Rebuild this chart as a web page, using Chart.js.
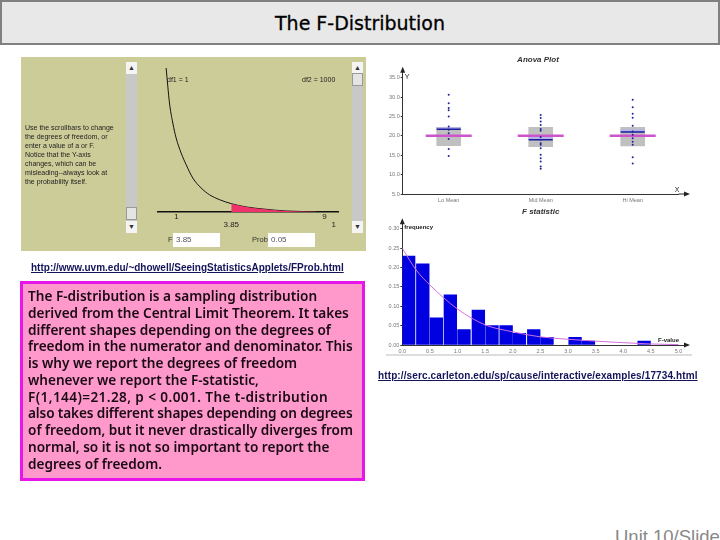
<!DOCTYPE html>
<html>
<head>
<meta charset="utf-8">
<title>The F-Distribution</title>
<script src="https://cdn.jsdelivr.net/npm/chart.js@4"></script>
<style>
html, body { margin: 0; padding: 0; background: #fff; }
body { width: 720px; height: 540px; overflow: hidden; position: relative; font-family: "Liberation Sans", sans-serif; }
.abs { position: absolute; }
canvas { position: absolute; }
#titleBar { left: 0; top: 0; width: 716px; height: 41px; background: #e8e8e8; border: 2px solid #808080; text-align: center; font: 19px/43px "DejaVu Sans", sans-serif; color: #000; -webkit-text-stroke: 0.3px #000; }
#panel { left: 21px; top: 57px; width: 345px; height: 194px; background: #cccc99; }
.track { width: 11px; top: 62px; height: 171px; background: #c8c8c8; }
.btn { width: 11px; height: 12px; background: #f4f4f4; left: 0; text-align: center; font: 7px/12px "Liberation Sans"; color: #333; }
.thumb { width: 9px; height: 11px; left: 0; background: #e4e4e4; border: 1px solid #999; }
#help { left: 25px; top: 122.5px; font: 7px/9px "Liberation Sans", sans-serif; color: #222; white-space: nowrap; }
.df { font: 7px/8px "Liberation Sans"; top: 76px; color: #222; white-space: nowrap; }
.field { background: #fff; height: 14px; top: 233px; width: 47px; font: 8px/14px "Liberation Sans"; color: #555; padding-left: 3px; box-sizing: border-box; }
.lbl { font: 7.5px/14px "Liberation Sans"; top: 233px; color: #333; }
.link { font: bold 10px/12px "Liberation Sans", sans-serif; color: #14145a; text-decoration: underline; white-space: nowrap; }
#note { left: 20px; top: 281px; width: 339px; height: 194px; background: #ff99cc; border: 3px solid #e815e8; font: 600 13.6px/16.75px "Noto Sans", sans-serif; color: #1a0a14; white-space: nowrap; }
#note div { position: absolute; left: 5px; top: 4px; }
#anovaTitle { left: 375px; width: 326px; top: 55px; text-align: center; font: italic bold 8px/10px "Liberation Sans"; color: #333; }
#footer { left: 615px; top: 525px; font: 18.5px/24px "Liberation Sans", sans-serif; color: #888; white-space: nowrap; }
#histStrip { left: 386px; top: 354px; width: 306px; height: 2px; background: #dddddd; }
</style>
</head>
<body>
<div id="titleBar" class="abs">The F-Distribution</div>

<div id="panel" class="abs"></div>
<canvas id="fChart" style="left:21px;top:57px"></canvas>
<div class="abs df" style="left:167px">df1 = 1</div>
<div class="abs df" style="left:302px">df2 = 1000</div>
<div id="help" class="abs">Use the scrollbars to change<br>the degrees of freedom, or<br>enter a value of a or F.<br>Notice that the Y-axis<br>changes, which can be<br>misleading--always look at<br>the probability itself.</div>
<div class="abs track" style="left:126px">
  <div class="abs btn" style="top:0">&#9650;</div>
  <div class="abs thumb" style="top:145px"></div>
  <div class="abs btn" style="bottom:0">&#9660;</div>
</div>
<div class="abs track" style="left:352px">
  <div class="abs btn" style="top:0">&#9650;</div>
  <div class="abs thumb" style="top:11px"></div>
  <div class="abs btn" style="bottom:0">&#9660;</div>
</div>
<div class="abs lbl" style="left:168px">F</div>
<div class="abs field" style="left:173px">3.85</div>
<div class="abs lbl" style="left:252px">Prob:</div>
<div class="abs field" style="left:268px">0.05</div>

<div class="abs link" style="left:31px;top:262px">http://www.uvm.edu/~dhowell/SeeingStatisticsApplets/FProb.html</div>

<div id="note" class="abs"><div>The F-distribution is a sampling distribution<br>derived from the Central Limit Theorem. It takes<br>different shapes depending on the degrees of<br>freedom in the numerator and denominator. This<br>is why we report the degrees of freedom<br>whenever we report the F-statistic,<br><span style="letter-spacing:0.4px">F(1,144)=21.28, p &lt; 0.001. The t-distribution</span><br><span style="letter-spacing:-0.12px">also takes different shapes depending on degrees</span><br>of freedom, but it never drastically diverges from<br>normal, so it is not so important to report the<br>degrees of freedom.</div></div>

<canvas id="anovaChart" style="left:375px;top:50px"></canvas>
<div id="anovaTitle" class="abs">Anova Plot</div>
<canvas id="histChart" style="left:375px;top:216px"></canvas>
<div id="histStrip" class="abs"></div>
<div class="abs link" style="left:378px;top:370px;letter-spacing:0.12px">http://serc.carleton.edu/sp/cause/interactive/examples/17734.html</div>
<div id="footer" class="abs">Unit 10/Slide</div>

<script>
// F density curve
const fX = [0.44, 0.53, 0.62, 0.80, 0.98, 1.25, 1.52, 1.88, 2.33, 2.78, 3.32, 3.96, 4.77, 5.67, 6.93, 8.55];
const fY = [1.0, 0.873, 0.757, 0.618, 0.514, 0.41, 0.329, 0.236, 0.167, 0.12, 0.086, 0.058, 0.035, 0.021, 0.007, 0.002];
const fCritical = 3.96;
const fTickValues = [1, fCritical, 9, 9.5];
const fTickLabels = [["1"], ["", "3.85"], ["9"], ["", "1"]];

// Anova plot
const groupLabels = ["Lo Mean", "Mid Mean", "Hi Mean"];
const boxLow = [17.5, 17.2, 17.4];
const boxHigh = [22.2, 22.2, 22.2];
const groupMeans = [21.7, 19.0, 21.0];
const bandTop = [22.2, 19.7, 21.6];
const grandMeans = [20, 20, 20];
const group1 = [30.6, 28.4, 27.2, 26.6, 25, 22.4, 21.6, 20.7, 19.2, 16.6, 14.8];
const group2 = [25.4, 24.6, 23.7, 22.8, 21.8, 21.3, 19.7, 19, 18.1, 17.7, 16.8, 15.1, 14.2, 13.4, 12.1, 11.5];
const group3 = [29.3, 27.4, 25.7, 24.7, 22.6, 21.1, 20.3, 19.4, 18.5, 17.7, 14.5, 12.9];

// Histogram of F statistics
const binCenters = [0.115, 0.371, 0.616, 0.87, 1.117, 1.377, 1.624, 1.88, 2.12, 2.38, 2.62, 3.128, 3.37, 4.378];
const binFreq = [0.23, 0.21, 0.07, 0.13, 0.04, 0.09, 0.05, 0.05, 0.03, 0.04, 0.02, 0.02, 0.01, 0.01];
const curveX = [0, 0.25, 0.5, 1, 1.5, 2, 2.5, 3, 3.5, 4, 4.5, 5];
const curveY = [0.25, 0.194, 0.155, 0.093, 0.052, 0.034, 0.021, 0.0147, 0.01, 0.006, 0.0026, 0.001];

Chart.defaults.animation = false;
Chart.defaults.responsive = false;
Chart.defaults.font.family = "Liberation Sans";

function makeCanvas(id, w, h) {
  const c = document.getElementById(id);
  c.width = w;
  c.height = h;
  return c;
}

function pairs(xs, ys) {
  return xs.map(function(x, i) { return { x: x, y: ys[i] }; });
}

function head(ctx, x, y, dx, dy) {
  ctx.beginPath();
  ctx.moveTo(x + dx * 6, y + dy * 6);
  ctx.lineTo(x - dy * 2.5, y + dx * 2.5);
  ctx.lineTo(x + dy * 2.5, y - dx * 2.5);
  ctx.closePath();
  ctx.fill();
}

// arrow heads and the end labels of the two small plots
const axisEnds = {
  id: 'axisEnds',
  afterDraw(chart, args, o) {
    if (!o.on) return;
    const ctx = chart.ctx, a = chart.chartArea;
    ctx.save();
    ctx.strokeStyle = ctx.fillStyle = '#222';
    ctx.lineWidth = 1;
    ctx.beginPath();
    ctx.moveTo(a.right, a.bottom);
    ctx.lineTo(a.right + o.extra, a.bottom);
    ctx.stroke();
    head(ctx, a.right + o.extra, a.bottom, 1, 0);
    head(ctx, a.left, a.top, 0, -1);
    ctx.font = o.font;
    ctx.fillText(o.y, a.left + o.yLabel[0], a.top + o.yLabel[1]);
    ctx.fillText(o.x, a.right + o.xLabel[0], a.bottom + o.xLabel[1]);
    ctx.restore();
  }
};
Chart.register(axisEnds);

const axisGrey = '#333';
const tinyTicks = { font: { size: 5.5 }, color: '#777', maxRotation: 0, autoSkip: false };

new Chart(makeCanvas('fChart', 345, 194), {
  type: 'line',
  data: {
    datasets: [
      {
        data: pairs(fX, fY).filter(function(p) { return p.x >= fCritical; }),
        borderColor: '#f0336a', backgroundColor: '#f0336a', borderWidth: 0, fill: 'origin',
        pointRadius: 0, cubicInterpolationMode: 'monotone'
      },
      {
        data: pairs(fX, fY),
        borderColor: '#111', borderWidth: 1, pointRadius: 0, cubicInterpolationMode: 'monotone'
      }
    ]
  },
  options: {
    layout: { padding: { left: 137, right: 28, top: 11 } },
    plugins: { legend: { display: false }, tooltip: { enabled: false } },
    scales: {
      x: {
        type: 'linear', min: 0, max: 9.73,
        afterBuildTicks: function(s) { s.ticks = fTickValues.map(function(v) { return { value: v }; }); },
        afterFit: function(s) { s.height = 39; },
        grid: { display: false, drawTicks: false },
        border: { color: '#111', width: 1.5 },
        ticks: {
          autoSkip: false, maxRotation: 0, padding: 1, color: '#222', font: { size: 8, lineHeight: 1 },
          callback: function(v, i) { return fTickLabels[i]; }
        }
      },
      y: { display: false, min: 0, max: 1 }
    }
  }
});

function dotSet(values, label) {
  return {
    type: 'line', showLine: false, order: 0,
    data: values.map(function(v) { return { x: label, y: v }; }),
    pointRadius: 1, pointBackgroundColor: '#22229a', pointBorderWidth: 0
  };
}

new Chart(makeCanvas('anovaChart', 330, 168), {
  type: 'bar',
  data: {
    labels: groupLabels,
    datasets: [
      {
        data: groupMeans.map(function(v, i) { return [v, bandTop[i]]; }),
        backgroundColor: '#b4b4e6', barThickness: 24, order: 4
      },
      {
        data: boxLow.map(function(v, i) { return [v, boxHigh[i]]; }),
        backgroundColor: '#c0c0c0', barThickness: 24, order: 5
      },
      {
        type: 'line', showLine: false, order: 2, data: groupMeans,
        pointStyle: 'line', pointRadius: 12, pointBorderColor: '#1a1aa0', pointBorderWidth: 1.5
      },
      {
        type: 'line', showLine: false, order: 1, data: grandMeans,
        pointStyle: 'line', pointRadius: 23, pointBorderColor: '#cc55cc', pointBorderWidth: 2.5
      },
      dotSet(group1, groupLabels[0]),
      dotSet(group2, groupLabels[1]),
      dotSet(group3, groupLabels[2])
    ]
  },
  options: {
    datasets: { bar: { grouped: false } },
    layout: { autoPadding: false, padding: { right: 26.3, top: 22.7 } },
    plugins: {
      legend: { display: false }, tooltip: { enabled: false },
      axisEnds: { on: true, extra: 5.3, x: 'X', y: 'Y', xLabel: [-4, -2], yLabel: [2, 6], font: '7px "Liberation Sans"' }
    },
    scales: {
      x: {
        type: 'category', offset: true,
        afterFit: function(s) { s.height = 24; },
        grid: { display: false, tickLength: 2, tickColor: axisGrey },
        border: { color: axisGrey },
        ticks: Object.assign({}, tinyTicks, { padding: 1 }),
        title: {
          display: true, text: 'F statistic', color: '#333',
          font: { size: 8, style: 'italic', weight: 'bold', lineHeight: 1.2 },
          padding: { top: 0, bottom: 1 }
        }
      },
      y: {
        min: 5, max: 36.3,
        afterFit: function(s) { s.width = 27.7; },
        grid: { drawOnChartArea: false, tickLength: 2, tickColor: axisGrey },
        border: { color: axisGrey },
        ticks: Object.assign({}, tinyTicks, {
          stepSize: 5, includeBounds: false, padding: 1,
          callback: function(v) { return v.toFixed(1); }
        })
      }
    }
  }
});

new Chart(makeCanvas('histChart', 330, 142), {
  type: 'bar',
  data: {
    datasets: [
      {
        type: 'line', data: pairs(curveX, curveY), order: 1,
        borderColor: '#d070e0', borderWidth: 1, pointRadius: 0, cubicInterpolationMode: 'monotone'
      },
      {
        data: pairs(binCenters, binFreq), order: 2,
        backgroundColor: '#0000e0', barThickness: 12.67
      }
    ]
  },
  options: {
    layout: { padding: { right: 21, top: 8.3 } },
    plugins: {
      legend: { display: false }, tooltip: { enabled: false },
      axisEnds: { on: true, extra: 0, x: 'F-value', y: 'frequency', xLabel: [-26, -3], yLabel: [2, 5], font: 'bold 6px "Liberation Sans"' }
    },
    scales: {
      x: {
        type: 'linear', min: 0, max: 5.1, offset: false,
        afterFit: function(s) { s.height = 13; },
        grid: { display: false, tickLength: 2, tickColor: axisGrey },
        border: { color: axisGrey },
        ticks: Object.assign({}, tinyTicks, {
          stepSize: 0.5, includeBounds: false, padding: 1,
          callback: function(v) { return v.toFixed(1); }
        })
      },
      y: {
        min: 0, max: 0.312,
        afterFit: function(s) { s.width = 27.3; },
        grid: { drawOnChartArea: false, tickLength: 2, tickColor: axisGrey },
        border: { color: axisGrey },
        ticks: Object.assign({}, tinyTicks, {
          stepSize: 0.05, includeBounds: false, padding: 1,
          callback: function(v) { return v.toFixed(2); }
        })
      }
    }
  }
});
</script>
</body>
</html>
